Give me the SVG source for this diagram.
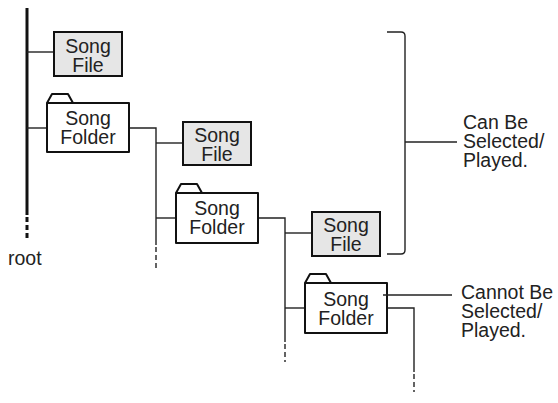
<svg xmlns="http://www.w3.org/2000/svg" width="558" height="403" viewBox="0 0 558 403">
<style>
.file{fill:#e6e6e6;stroke:#111;stroke-width:2}
.folder{fill:#fff;stroke:#111;stroke-width:2;stroke-linejoin:round}
.t{font-family:"Liberation Sans",Arial,sans-serif;font-size:19.5px;fill:#222;text-anchor:middle}
.l{font-family:"Liberation Sans",Arial,sans-serif;font-size:19.5px;fill:#222}
.c{fill:none;stroke:#222;stroke-width:1.4}
.d{fill:none;stroke:#222;stroke-width:1.4;stroke-dasharray:5 3}
</style>
<rect width="558" height="403" fill="#fff"/>
<g id="connectors">
<path d="M27,8 V215" fill="none" stroke="#111" stroke-width="3"/>
<path d="M27,217 V239" fill="none" stroke="#111" stroke-width="3" stroke-dasharray="5 3"/>
<path class="c" d="M27,52 H54"/>
<path class="c" d="M27,128 H47"/>
<path class="c" d="M129,128 H156 V245"/>
<path class="d" d="M156,247 V269"/>
<path class="c" d="M156,143 H183"/>
<path class="c" d="M156,218 H176"/>
<path class="c" d="M258,218 H285 V342"/>
<path class="d" d="M285,344 V362"/>
<path class="c" d="M285,233 H312"/>
<path class="c" d="M285,308 H305"/>
<path class="c" d="M387,308 H414 V372"/>
<path class="d" d="M414,374 V392"/>
<path class="c" d="M387,32 H401 Q405,32 405,36 V250 Q405,254 401,254 H387"/>
<path class="c" d="M405,142 H457"/>
</g>
<g id="file1">
<rect class="file" x="54" y="32" width="68" height="44"/>
<text class="t" x="88" y="53">Song</text>
<text class="t" x="88" y="72">File</text>
</g>
<g id="folder1">
<path class="folder" d="M47,103 L52,94 L68,94 L73,103"/>
<rect class="folder" x="47" y="103" width="82" height="49"/>
<text class="t" x="88" y="125">Song</text>
<text class="t" x="88" y="144">Folder</text>
</g>
<g id="file2">
<rect class="file" x="183" y="122" width="68" height="43"/>
<text class="t" x="217" y="142">Song</text>
<text class="t" x="217" y="161">File</text>
</g>
<g id="folder2">
<path class="folder" d="M176,193 L181,184 L197,184 L202,193"/>
<rect class="folder" x="176" y="193" width="82" height="50"/>
<text class="t" x="217" y="215">Song</text>
<text class="t" x="217" y="234">Folder</text>
</g>
<g id="file3">
<rect class="file" x="312" y="212" width="68" height="44"/>
<text class="t" x="346" y="232">Song</text>
<text class="t" x="346" y="251">File</text>
</g>
<g id="folder3">
<path class="folder" d="M305,283 L310,274 L326,274 L331,283"/>
<rect class="folder" x="305" y="283" width="82" height="50"/>
<text class="t" x="346" y="306">Song</text>
<text class="t" x="346" y="325">Folder</text>
<path class="c" d="M383,295 H452"/>
</g>
<g id="root">
<text class="l" x="8" y="265">root</text>
</g>
<g id="can">
<text class="l" x="463" y="129">Can Be</text>
<text class="l" x="463" y="148">Selected/</text>
<text class="l" x="463" y="167">Played.</text>
</g>
<g id="cannot">
<text class="l" x="461" y="299">Cannot Be</text>
<text class="l" x="461" y="318">Selected/</text>
<text class="l" x="461" y="337">Played.</text>
</g>
</svg>
